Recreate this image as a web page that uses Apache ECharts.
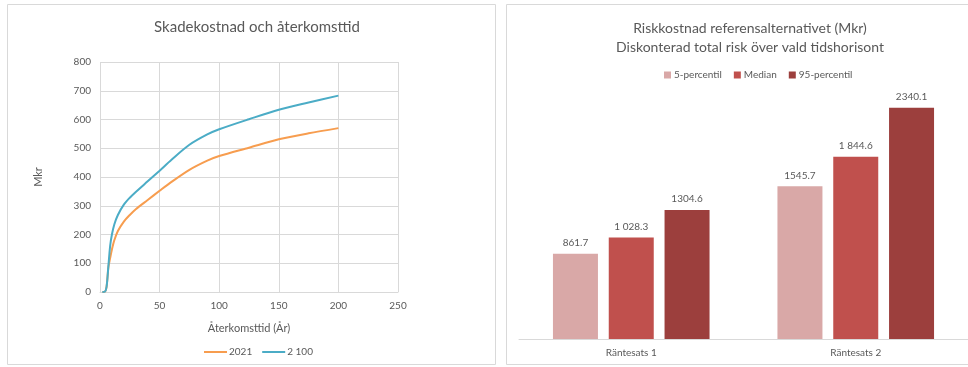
<!DOCTYPE html>
<html>
<head>
<meta charset="utf-8">
<script src="https://cdn.jsdelivr.net/npm/echarts@6/dist/echarts.min.js"></script>
<style>
  html, body { margin: 0; padding: 0; background: #fff; }
  #main { width: 968px; height: 367px; }
</style>
</head>
<body>
<div id="main"></div>
<script>
// left chart: skadekostnad vs återkomsttid
const aterkomsttid = [2, 4, 5.5, 7, 8.5, 10, 12, 15, 20, 25, 30, 40, 50, 60, 75, 90, 100, 125, 150, 175, 200];
const kostnad_2021 = [0, 1, 18, 85, 118, 148, 180, 212, 245, 268, 288, 320, 352, 383, 425, 457, 473, 502, 531, 552, 570];
const kostnad_2100 = [0, 1, 18, 88, 160, 200, 235, 268, 304, 328, 348, 385, 422, 460, 512, 548, 566, 601, 634, 659, 683];

// right chart: riskkostnad
const rantesatser = ["Räntesats 1", "Räntesats 2"];
const p5 = [861.7, 1545.7];
const median = [1028.3, 1844.6];
const p95 = [1304.6, 2340.1];
const p5_labels = ["861.7", "1545.7"];
const median_labels = ["1 028.3", "1 844.6"];
const p95_labels = ["1304.6", "2340.1"];

const font = "Lato";
const txt = "#595959";
const grid_col = "#d9d9d9";

function pairs(xs, ys){
    return xs.map((x, i) => [x, ys[i]]);
}

function barSeries(name, values, labels, color){
    return {
        name, type: 'bar', xAxisIndex: 1, yAxisIndex: 1,
        data: values, barWidth: 45, barGap: '24%',
        itemStyle: {color},
        label: {
            show: true, position: 'top', distance: 6,
            color: txt, fontFamily: font, fontSize: 10,
            formatter: (p) => labels[p.dataIndex]
        }
    };
}

const chart = echarts.init(document.getElementById('main'), null, {renderer: 'canvas'});

chart.setOption({
    animation: false,
    textStyle: {fontFamily: font},
    graphic: [
        {type: 'rect', shape: {x: 7.5, y: 4.5, width: 488, height: 360}, style: {fill: 'none', stroke: grid_col, lineWidth: 1}},
        {type: 'rect', shape: {x: 506.5, y: 4.5, width: 470, height: 360}, style: {fill: 'none', stroke: grid_col, lineWidth: 1}}
    ],
    title: [
        {text: "Skadekostnad och återkomsttid", left: 252, top: 15, textAlign: 'center',
         textStyle: {color: txt, fontSize: 15, fontWeight: 'normal', fontFamily: font}},
        {text: "Riskkostnad referensalternativet (Mkr)\nDiskonterad total risk över vald tidshorisont", left: 745, top: 14, textAlign: 'center',
         textStyle: {color: txt, fontSize: 14, fontWeight: 'normal', fontFamily: font, lineHeight: 19}}
    ],
    legend: [
        {data: ["2021", "2 100"], left: 199, top: 342, icon: 'rect', itemWidth: 23, itemHeight: 2, itemGap: 10,
         textStyle: {color: txt, fontSize: 10, fontFamily: font, padding: [0, 0, 0, -3]}},
        {data: ["5-percentil", "Median", "95-percentil"], left: 659, top: 65, icon: 'rect', itemWidth: 7, itemHeight: 7, itemGap: 12,
         textStyle: {color: txt, fontSize: 10, fontFamily: font, padding: [0, 0, 0, -2]}}
    ],
    grid: [
        {left: 100, top: 62, width: 298, height: 230},
        {left: 519, top: 92, width: 451, height: 247}
    ],
    xAxis: [
        {type: 'value', gridIndex: 0, min: 0, max: 250, interval: 50,
         name: "Återkomsttid (År)", nameLocation: 'middle', nameGap: 31,
         nameTextStyle: {color: txt, fontSize: 11, fontFamily: font},
         axisLine: {show: true, lineStyle: {color: grid_col}}, axisTick: {show: false},
         axisLabel: {color: txt, fontSize: 10, margin: 9, fontFamily: font},
         splitLine: {show: true, lineStyle: {color: grid_col}}},
        {type: 'category', gridIndex: 1, data: rantesatser,
         axisLine: {show: true, lineStyle: {color: grid_col}}, axisTick: {show: false},
         axisLabel: {color: txt, fontSize: 10, margin: 9, fontFamily: font}}
    ],
    yAxis: [
        {type: 'value', gridIndex: 0, min: 0, max: 800, interval: 100,
         name: "Mkr", nameLocation: 'middle', nameGap: 56, nameRotate: 90,
         nameTextStyle: {color: txt, fontSize: 11, fontFamily: font},
         axisLine: {show: false}, axisTick: {show: false},
         axisLabel: {color: txt, fontSize: 10, margin: 9, fontFamily: font},
         splitLine: {show: true, lineStyle: {color: grid_col}}},
        {type: 'value', gridIndex: 1, min: 0, max: 2500, show: false, splitLine: {show: false}}
    ],
    series: [
        {name: "2021", type: 'line', xAxisIndex: 0, yAxisIndex: 0, data: pairs(aterkomsttid, kostnad_2021),
         smooth: 0.3, showSymbol: false, lineStyle: {color: '#f79d4f', width: 2}, itemStyle: {color: '#f79d4f'}},
        {name: "2 100", type: 'line', xAxisIndex: 0, yAxisIndex: 0, data: pairs(aterkomsttid, kostnad_2100),
         smooth: 0.3, showSymbol: false, lineStyle: {color: '#4bacc6', width: 2}, itemStyle: {color: '#4bacc6'}},
        barSeries("5-percentil", p5, p5_labels, '#d9a8a7'),
        barSeries("Median", median, median_labels, '#c0504d'),
        barSeries("95-percentil", p95, p95_labels, '#9c3f3d')
    ]
});
</script>
</body>
</html>
